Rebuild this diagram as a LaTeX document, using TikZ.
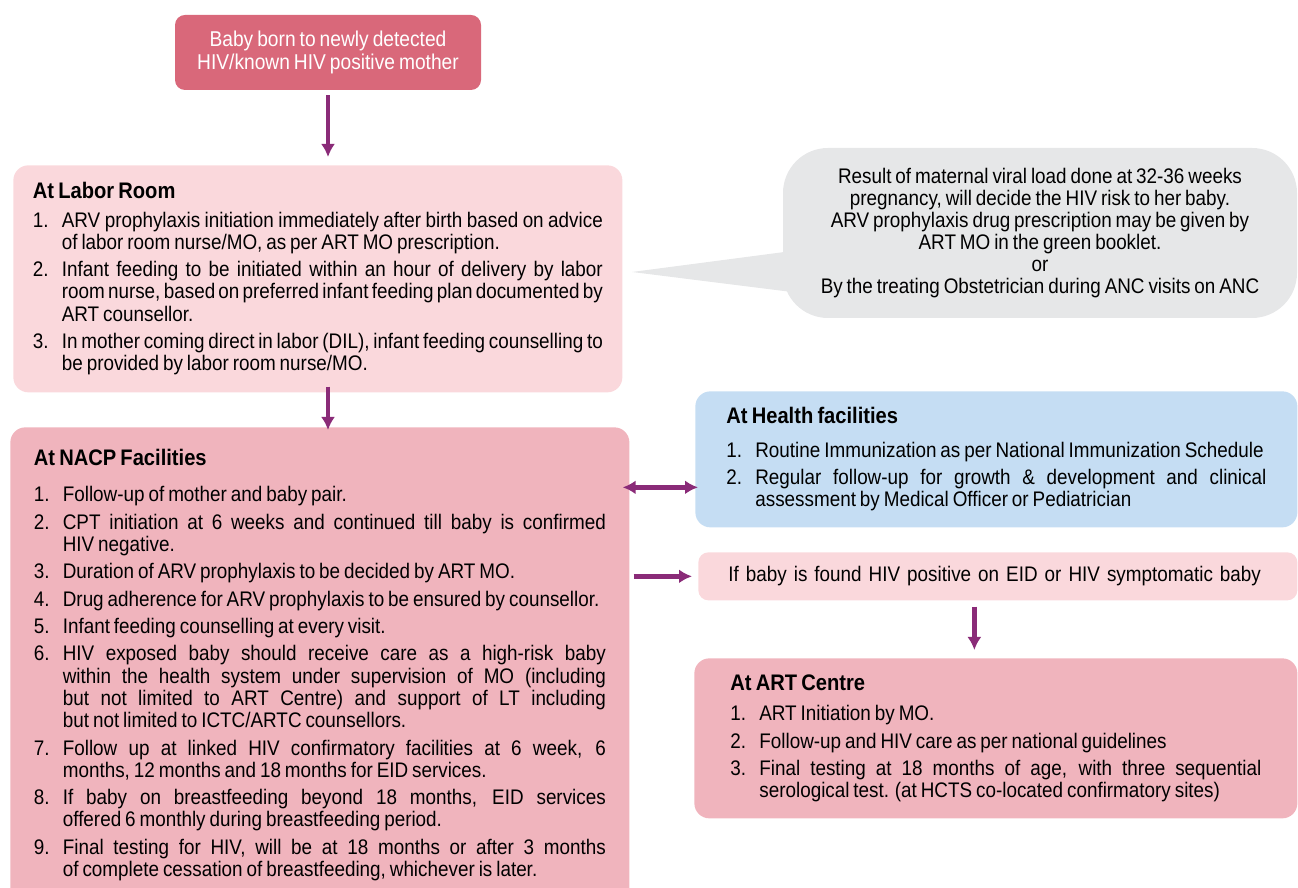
\documentclass[tikz,border=0pt]{standalone}
\usepackage{xcolor}
\usepackage{fontspec}
\setmainfont[FakeStretch=0.895,WordSpace=0.75]{Liberation Sans}
\usetikzlibrary{arrows.meta}
\definecolor{topbox}{RGB}{217,104,122}
\definecolor{labor}{RGB}{250,216,220}
\definecolor{nacp}{RGB}{240,180,189}
\definecolor{health}{RGB}{197,221,243}
\definecolor{note}{RGB}{230,231,232}
\definecolor{arrowpurple}{RGB}{138,43,120}
\hyphenpenalty=10000
\exhyphenpenalty=10000
\tikzstyle{box}=[rounded corners=0.3cm, inner ysep=0cm, align=justify, anchor=north west, font=\fontsize{12}{12.7}\selectfont]
\tikzset{link/.style={->, line width=0.09cm, color=arrowpurple}}
\newcommand{\head}[2]{{\fontsize{12.8}{15}\selectfont\bfseries #1\par}\vspace{#2}}
\newcommand{\itm}[2]{\par\vspace{0.1cm}\hangindent=0.58cm\hangafter=1\noindent\makebox[0.58cm][l]{#1.}#2\par}

\begin{document}
\begin{tikzpicture}[>={Latex[length=0.26cm,width=0.28cm]}]
  \useasboundingbox (0,0) rectangle (25.96,17.76);
  %% Left column
  \draw (6.56,16.71) node[rounded corners=0.2cm, fill=topbox, text=white, align=center, minimum width=6.12cm, minimum height=1.5cm, font=\fontsize{12.2}{13}\selectfont] (B1) {Baby born to newly detected\\HIV/known HIV positive mother};

  \draw (0.26,14.46) node[box, fill=labor, text width=11.4cm, inner xsep=0.39cm, minimum height=4.54cm] (B2) {%
    \head{At Labor Room}{0.02cm}
    \itm{1}{ARV prophylaxis initiation immediately after birth based on advice\linebreak of labor room nurse/MO, as per ART MO prescription.}
    \itm{2}{Infant feeding to be initiated within an hour of delivery by labor\linebreak room nurse, based on preferred infant feeding plan documented by\linebreak ART counsellor.}
    \itm{3}{In mother coming direct in labor (DIL), infant feeding counselling to\linebreak be provided by labor room nurse/MO.}\vspace*{0.1cm}};

  \draw (0.2,9.22) node[box, fill=nacp, text width=11.44cm, inner xsep=0.47cm, minimum height=9.5cm] (B3) {%
    \head{At NACP Facilities}{0.19cm}
    \itm{1}{Follow-up of mother and baby pair.}
    \itm{2}{CPT initiation at 6 weeks and continued till baby is confirmed\linebreak HIV negative.}
    \itm{3}{Duration of ARV prophylaxis to be decided by ART MO.}
    \itm{4}{Drug adherence for ARV prophylaxis to be ensured by counsellor.}
    \itm{5}{Infant feeding counselling at every visit.}
    \itm{6}{HIV exposed baby should receive care as a high-risk baby\linebreak within the health system under supervision of MO (including\linebreak but not limited to ART Centre) and support of LT including\linebreak but not limited to ICTC/ARTC counsellors.}
    \itm{7}{Follow up at linked HIV confirmatory facilities at 6 week, 6\linebreak months, 12 months and 18 months for EID services.}
    \itm{8}{If baby on breastfeeding beyond 18 months, EID services\linebreak offered 6 monthly during breastfeeding period.}
    \itm{9}{Final testing for HIV, will be at 18 months or after 3 months\linebreak of complete cessation of breastfeeding, whichever is later.}};

  %% Right column
  \draw (20.8,13.1) node[rounded corners=0.9cm, fill=note, align=center, minimum width=10.28cm, minimum height=3.4cm, font=\fontsize{12}{12.5}\selectfont] (R1) {Result of maternal viral load done at 32-36 weeks\\pregnancy, will decide the HIV risk to her baby.\\ARV prophylaxis drug prescription may be given by\\ART MO in the green booklet.\\or\\By the treating Obstetrician during ANC visits on ANC};
  \coordinate (T) at (12.64,12.32);
  \fill[note] (T) -- ([shift={(0.34,-0.34)}]R1.west) -- ([shift={(0.34,-1.2)}]R1.west) -- cycle;

  \draw (13.9,9.94) node[box, fill=health, text width=10.8cm, inner xsep=0.62cm, minimum height=2.72cm] (R2) {%
    \head{At Health facilities}{0.12cm}
    \itm{1}{Routine Immunization as per National Immunization Schedule}
    \itm{2}{Regular follow-up for growth \& development and clinical\linebreak assessment by Medical Officer or Pediatrician}};

  \draw (13.96,6.72) node[box, fill=labor, rounded corners=0.2cm, align=left, text width=10.78cm, inner xsep=0.6cm, minimum height=0.96cm] (R3) {If baby is found HIV positive on EID or HIV symptomatic baby};

  \draw (13.88,4.6) node[box, fill=nacp, text width=10.62cm, inner xsep=0.72cm, minimum height=3.2cm] (R4) {%
    \head{At ART Centre}{0.06cm}
    \itm{1}{ART Initiation by MO.}
    \itm{2}{Follow-up and HIV care as per national guidelines}
    \itm{3}{Final testing at 18 months of age, with three sequential\linebreak serological test. (at HCTS co-located confirmatory sites)}};

  %% Arrows
  \draw[link, shorten <=0.1cm, shorten >=0.16cm] (B1.south) -- (B1.south |- B2.north);
  \draw[link, shorten <=-0.12cm, shorten >=-0.06cm] (B1.south |- B2.south) -- (B1.south |- B3.north);
  \coordinate (D) at ([yshift=-0.56cm]R2.west);
  \draw[link, <->, shorten <=-0.14cm, shorten >=-0.06cm] (D -| B3.east) -- (D);
  \draw[link, shorten <=0.08cm, shorten >=0.12cm] (R3.west -| B3.east) -- (R3.west);
  \coordinate (E) at ([xshift=-0.47cm]R3.south);
  \draw[link, shorten <=0.12cm, shorten >=0.16cm] (E) -- (E |- R4.north);
\end{tikzpicture}
\end{document}
